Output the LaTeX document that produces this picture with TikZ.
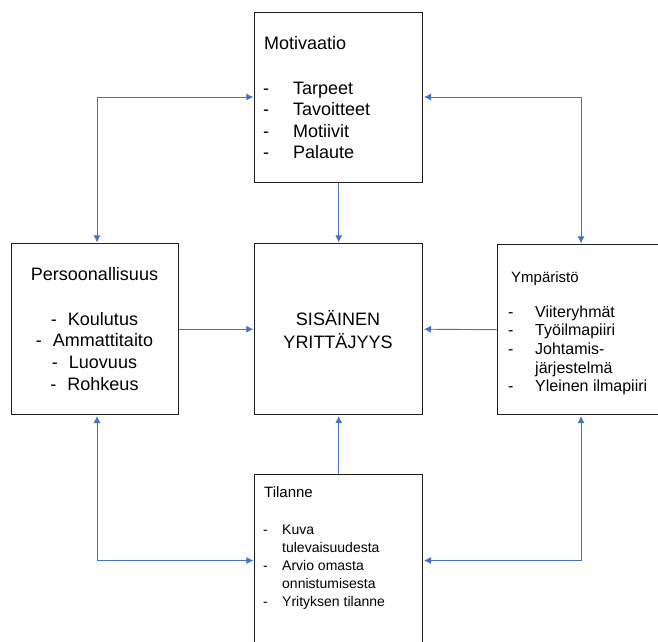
\documentclass[tikz,border=0pt]{standalone}
\usepackage{fontspec}
\setmainfont{Liberation Sans}
\usepackage{array}
\usetikzlibrary{arrows.meta}
\definecolor{arrowblue}{HTML}{4472C4}
\definecolor{boxline}{HTML}{1E1E1E}
\newcommand{\myfs}[2]{\fontsize{#1}{#2}\selectfont}
\begin{document}
\begin{tikzpicture}[x=1pt,y=-1pt,
  box/.style={draw=boxline, line width=1.4pt, fill=white, inner sep=0pt, anchor=north west, rectangle},
  conn/.style={draw=arrowblue, line width=0.9pt, shorten >=0.6pt, -{Latex[length=7pt,width=7pt]}},
  biconn/.style={draw=arrowblue, line width=0.9pt, shorten >=0.6pt, shorten <=0.6pt, {Latex[length=7pt,width=7pt]}-{Latex[length=7pt,width=7pt]}},
  txt/.style={inner sep=0pt, anchor=base west},
  ctxt/.style={inner sep=0pt, anchor=base}]
\useasboundingbox (0,0) rectangle (658,641);
\clip (0,0) rectangle (658,641);
\fill[white] (0,0) rectangle (658,641);
% boxes
\node[box, minimum width=168pt, minimum height=170pt] (mot) at (254,12) {};
\node[box, minimum width=168pt, minimum height=171pt] (sis) at (254,243) {};
\node[box, minimum width=167pt, minimum height=171pt] (per) at (11,243) {};
\node[box, minimum width=185pt, minimum height=170pt] (ymp) at (497,244) {};
\node[box, minimum width=168pt, minimum height=200pt] (til) at (254,474) {};
% corner coordinates
\coordinate (c1) at (97,97);
\coordinate (c2) at (581,97);
\coordinate (c3) at (97,560.5);
\coordinate (c4) at (581,560.5);
% connectors
\draw[conn] (mot.south) -- (sis.north);
\draw[conn] (per.east) -- (sis.west);
\draw[conn] (ymp.west) -- (sis.east);
\draw[conn] (til.north) -- (sis.south);
\draw[biconn] (per.north -| c1) -- (c1) -- (c1 -| mot.west);
\draw[biconn] (ymp.north -| c2) -- (c2) -- (c2 -| mot.east);
\draw[biconn] (per.south -| c3) -- (c3) -- (c3 -| til.west);
\draw[biconn] (ymp.south -| c4) -- (c4) -- (c4 -| til.east);
% texts: Motivaatio
\node[txt, font=\myfs{18}{21.5}] (motT) at (264,49) {Motivaatio};
\node[txt, font=\myfs{18}{21.5}] (motL) at (263,94) {\begin{tabular}[t]{@{}p{30pt}@{}l@{}}-&Tarpeet\\-&Tavoitteet\\-&Motiivit\\-&Palaute\end{tabular}};
% Persoonallisuus
\node[ctxt, font=\myfs{18}{21.7}] (perT) at (94.5,280) {Persoonallisuus};
\node[ctxt, font=\myfs{18}{21.7}] (perL) at (94.5,325) {\begin{tabular}[t]{@{}c@{}}-\hspace{11pt}Koulutus\\-\hspace{11pt}Ammattitaito\\-\hspace{11pt}Luovuus\\-\hspace{11pt}Rohkeus\end{tabular}};
% center
\node[ctxt, font=\myfs{18}{23.5}] (sisT) at (338,325) {\begin{tabular}[t]{@{}c@{}}SISÄINEN\\YRITTÄJYYS\end{tabular}};
% Ympäristö
\node[txt, font=\myfs{15}{18.7}] (ympT) at (511,282) {Ympäristö};
\node[txt, font=\myfs{16}{18.7}] (ympL) at (508,317) {\begin{tabular}[t]{@{}p{27pt}@{}l@{}}-&Viiteryhmät\\-&Työilmapiiri\\-&Johtamis-\\&järjestelmä\\-&Yleinen ilmapiiri\end{tabular}};
% Tilanne
\node[txt, font=\myfs{15}{18.1}] (tilT) at (264,497) {Tilanne};
\node[txt, font=\myfs{14}{18.1}] (tilL) at (263,534) {\begin{tabular}[t]{@{}p{19pt}@{}l@{}}-&Kuva\\&tulevaisuudesta\\-&Arvio omasta\\&onnistumisesta\\-&Yrityksen tilanne\end{tabular}};
\end{tikzpicture}
\end{document}
